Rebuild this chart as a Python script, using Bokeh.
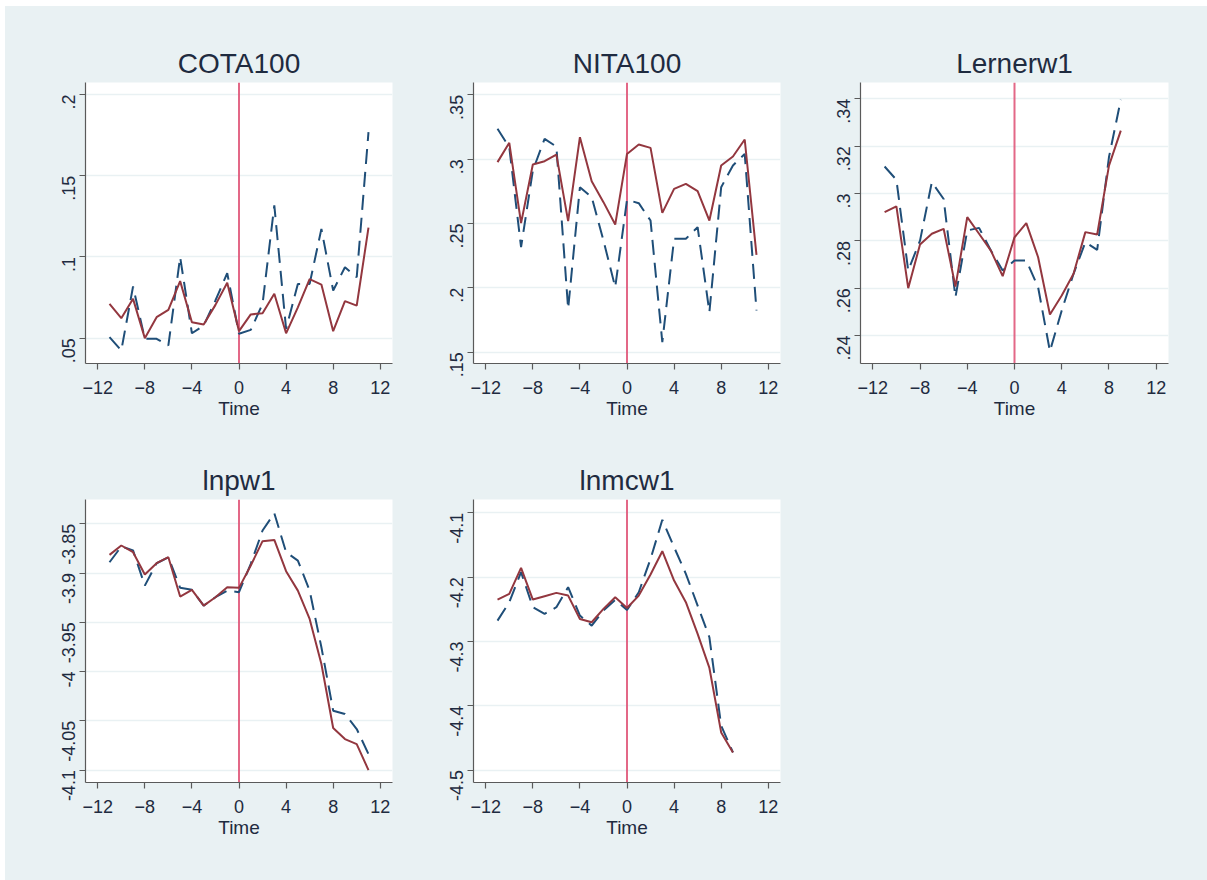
import math
from bokeh.plotting import figure
from bokeh.models import FixedTicker, Span, Spacer
from bokeh.layouts import column, row
from bokeh.embed import file_html
from bokeh.resources import INLINE

# ---------------- data ----------------
time_full = list(range(-11, 12))   # -11 .. 11
time_short = list(range(-11, 10))  # -11 .. 9

x_ticks = [-12, -8, -4, 0, 4, 8, 12]

cota_solid = [0.0711, 0.0623, 0.0742, 0.0500, 0.0629, 0.0674, 0.0851, 0.0598, 0.0584, 0.0705, 0.0841,
              0.0543, 0.0646, 0.0654, 0.0773, 0.0530, 0.0690, 0.0863, 0.0830, 0.0543, 0.0728, 0.0700, 0.1180]
cota_dashed = [0.0506, 0.0424, 0.0818, 0.0496, 0.0496, 0.0455, 0.0999, 0.0530, 0.0578, 0.0732, 0.0900,
               0.0527, 0.0551, 0.0711, 0.1317, 0.0557, 0.0834, 0.0834, 0.1173, 0.0793, 0.0937, 0.0875, 0.1768]
cota_yticks = [0.05, 0.10, 0.15, 0.20]
cota_ylabels = [".05", ".1", ".15", ".2"]

nita_solid = [0.2977, 0.3127, 0.2503, 0.2959, 0.2984, 0.3036, 0.2518, 0.3171, 0.2829, 0.2666, 0.2492,
              0.3041, 0.3114, 0.3088, 0.2583, 0.2769, 0.2808, 0.2751, 0.2523, 0.2951, 0.3021, 0.3153, 0.2256]
nita_dashed = [0.3236, 0.3093, 0.2316, 0.2912, 0.3158, 0.3098, 0.1837, 0.2782, 0.2705, 0.2368, 0.2005,
               0.2684, 0.2658, 0.2523, 0.1578, 0.2381, 0.2381, 0.2472, 0.1811, 0.2782, 0.2951, 0.3041, 0.1824]
nita_yticks = [0.15, 0.20, 0.25, 0.30, 0.35]
nita_ylabels = [".15", ".2", ".25", ".3", ".35"]

lerner_solid = [0.2921, 0.2946, 0.2600, 0.2785, 0.2830, 0.2851, 0.2607, 0.2900, 0.2830, 0.2759, 0.2651,
                0.2815, 0.2875, 0.2731, 0.2489, 0.2569, 0.2661, 0.2837, 0.2827, 0.3118, 0.3266]
lerner_dashed = [0.3114, 0.3058, 0.2675, 0.2801, 0.3048, 0.2977, 0.2562, 0.2844, 0.2855, 0.2759, 0.2675,
                 0.2717, 0.2717, 0.2604, 0.2334, 0.2506, 0.2661, 0.2794, 0.2762, 0.3154, 0.3396]
lerner_yticks = [0.24, 0.26, 0.28, 0.30, 0.32, 0.34]
lerner_ylabels = [".24", ".26", ".28", ".3", ".32", ".34"]

lnpw_solid = [-3.8815, -3.8720, -3.8788, -3.9015, -3.8900, -3.8839, -3.9238, -3.9171, -3.9330, -3.9245, -3.9144,
              -3.9150, -3.8923, -3.8676, -3.8663, -3.8981, -3.9178, -3.9465, -3.9923, -4.0573, -4.0685, -4.0736, -4.1000]
lnpw_dashed = [-3.8890, -3.8730, -3.8770, -3.9127, -3.8900, -3.8840, -3.9150, -3.9170, -3.9330, -3.9245, -3.9178,
               -3.9194, -3.8906, -3.8568, -3.8392, -3.8788, -3.8873, -3.9178, -3.9753, -4.0397, -4.0431, -4.0583, -4.0837]
lnpw_yticks = [-4.10, -4.05, -4.00, -3.95, -3.90, -3.85]
lnpw_ylabels = ["-4.1", "-4.05", "-4", "-3.95", "-3.9", "-3.85"]

lnmc_solid = [-4.2349, -4.2261, -4.1856, -4.2349, -4.2297, -4.2245, -4.2287, -4.2650, -4.2702, -4.2494, -4.2313,
              -4.2479, -4.2287, -4.1960, -4.1597, -4.2053, -4.2390, -4.2883, -4.3412, -4.4414, -4.4725]
lnmc_dashed = [-4.2676, -4.2390, -4.1923, -4.2468, -4.2572, -4.2468, -4.2157, -4.2598, -4.2754, -4.2520, -4.2354,
               -4.2510, -4.2235, -4.1716, -4.1109, -4.1534, -4.1949, -4.2442, -4.2935, -4.4310, -4.4725]
lnmc_yticks = [-4.5, -4.4, -4.3, -4.2, -4.1]
lnmc_ylabels = ["-4.5", "-4.4", "-4.3", "-4.2", "-4.1"]

# ---------------- style ----------------
BG = "#E9F1F3"
FONT = "Liberation Sans"
TXT = "#1f2b40"
AXC = "#5a5a5a"
RED = "#93373F"
NAVY = "#1F4E78"
VLINE = "#E0587A"


def make_panel(title, x, solid, dashed, yticks, ylabels, yrange,
               width, height, bl, br, bt, bb):
    p = figure(width=width, height=height, x_range=(-13.04, 13.04), y_range=yrange,
               output_backend="svg", toolbar_location=None,
               min_border_left=bl, min_border_right=br, min_border_top=bt, min_border_bottom=bb)
    p.border_fill_color = BG
    p.background_fill_color = "white"
    p.outline_line_color = None

    p.title.text = title
    p.title.align = "center"
    p.title.text_font = FONT
    p.title.text_font_size = "28px"
    p.title.text_font_style = "normal"
    p.title.text_color = TXT
    p.title.standoff = 8

    p.xgrid.visible = False
    p.ygrid.grid_line_color = BG
    p.ygrid.grid_line_width = 1.5

    xa = p.xaxis[0]
    xa.ticker = FixedTicker(ticks=x_ticks)
    xa.axis_label = "Time"
    xa.axis_label_text_font = FONT
    xa.axis_label_text_font_size = "19px"
    xa.axis_label_text_font_style = "normal"
    xa.axis_label_text_color = TXT
    xa.axis_label_standoff = 1

    ya = p.yaxis[0]
    ya.ticker = FixedTicker(ticks=yticks)
    ya.major_label_overrides = {t: l for t, l in zip(yticks, ylabels)}
    ya.major_label_orientation = math.pi / 2

    for ax in (xa, ya):
        ax.axis_line_color = AXC
        ax.axis_line_width = 1.2
        ax.major_tick_line_color = AXC
        ax.major_tick_line_width = 1.2
        ax.major_tick_out = 6
        ax.major_tick_in = 0
        ax.minor_tick_line_color = None
        ax.major_label_text_font = FONT
        ax.major_label_text_font_size = "18px"
        ax.major_label_text_color = TXT
    xa.major_label_standoff = 11
    ya.major_label_standoff = 11

    p.add_layout(Span(location=0, dimension="height", line_color=VLINE,
                      line_width=2, line_alpha=0.9, level="underlay"))

    p.line(x, dashed, line_color=NAVY, line_width=2, line_dash="15 8")
    p.line(x, solid, line_color=RED, line_width=2)
    return p


# canvas geometry (white strip of 5px left / 6px top like the reference)
W = [391, 387, 424]
BL = [80, 77, 77]
BR = [4, 3, 39]
H1, T1, B1 = 424, 76, 67
H2, T2, B2 = 450, 69, 98

p1 = make_panel("COTA100", time_full, cota_solid, cota_dashed, cota_yticks, cota_ylabels,
                (0.0344, 0.2074), W[0], H1, BL[0], BR[0], T1, B1)
p2 = make_panel("NITA100", time_full, nita_solid, nita_dashed, nita_yticks, nita_ylabels,
                (0.1412, 0.3596), W[1], H1, BL[1], BR[1], T1, B1)
p3 = make_panel("Lernerw1", time_short, lerner_solid, lerner_dashed, lerner_yticks, lerner_ylabels,
                (0.2282, 0.3469), W[2], H1, BL[2], BR[2], T1, B1)
p4 = make_panel("lnpw1", time_full, lnpw_solid, lnpw_dashed, lnpw_yticks, lnpw_ylabels,
                (-4.1126, -3.8253), W[0], H2, BL[0], BR[0], T2, B2)
p5 = make_panel("lnmcw1", time_short, lnmc_solid, lnmc_dashed, lnmc_yticks, lnmc_ylabels,
                (-4.5193, -4.0793), W[1], H2, BL[1], BR[1], T2, B2)

blank = figure(width=W[2], height=H2, output_backend="svg", toolbar_location=None,
               x_axis_type=None, y_axis_type=None, min_border=0)
blank.border_fill_color = BG
blank.background_fill_color = BG
blank.outline_line_color = None
blank.xgrid.visible = False
blank.ygrid.visible = False

grid = column(row(p1, p2, p3, styles={"background-color": BG}),
              row(p4, p5, blank, styles={"background-color": BG}),
              styles={"background-color": BG})

layout = column(Spacer(width=1207, height=6),
                row(Spacer(width=5, height=H1 + H2), grid))

open("out.html", "w").write(file_html(layout, INLINE))
